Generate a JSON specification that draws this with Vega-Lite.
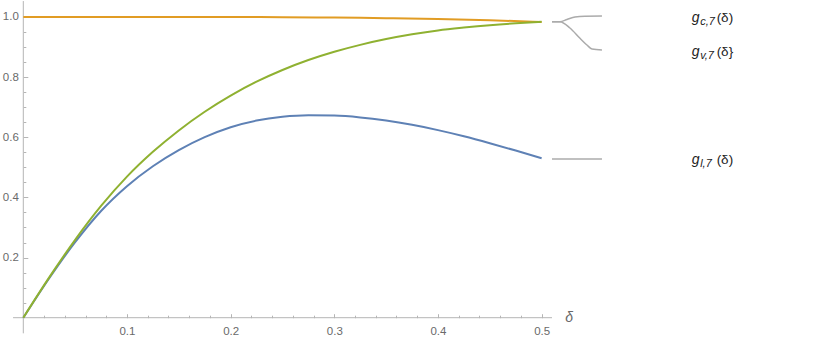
{
  "$schema": "https://vega.github.io/schema/vega-lite/v6.json",
  "width": 830,
  "height": 342,
  "autosize": "none",
  "padding": 0,
  "background": "white",
  "view": {"stroke": null},
  "config": {"font": "Liberation Sans"},
  "datasets": {
    "curves": [
      {"series": "l", "d": 0, "v": 0}, {"series": "l", "d": 0.025, "v": 0.1313}, {"series": "l", "d": 0.05, "v": 0.2513},
      {"series": "l", "d": 0.075, "v": 0.355}, {"series": "l", "d": 0.1, "v": 0.4375}, {"series": "l", "d": 0.125, "v": 0.5038},
      {"series": "l", "d": 0.15, "v": 0.5575}, {"series": "l", "d": 0.175, "v": 0.6005}, {"series": "l", "d": 0.2, "v": 0.6335},
      {"series": "l", "d": 0.225, "v": 0.6555}, {"series": "l", "d": 0.25, "v": 0.668}, {"series": "l", "d": 0.275, "v": 0.673},
      {"series": "l", "d": 0.3, "v": 0.672}, {"series": "l", "d": 0.325, "v": 0.666}, {"series": "l", "d": 0.35, "v": 0.6555},
      {"series": "l", "d": 0.375, "v": 0.6413}, {"series": "l", "d": 0.4, "v": 0.6238}, {"series": "l", "d": 0.425, "v": 0.6033},
      {"series": "l", "d": 0.45, "v": 0.5803}, {"series": "l", "d": 0.475, "v": 0.5558}, {"series": "l", "d": 0.5, "v": 0.5303},
      {"series": "c", "d": 0, "v": 1.0}, {"series": "c", "d": 0.1, "v": 1.0}, {"series": "c", "d": 0.2, "v": 0.9998},
      {"series": "c", "d": 0.25, "v": 0.9993}, {"series": "c", "d": 0.3, "v": 0.998}, {"series": "c", "d": 0.35, "v": 0.996},
      {"series": "c", "d": 0.4, "v": 0.993}, {"series": "c", "d": 0.45, "v": 0.989}, {"series": "c", "d": 0.5, "v": 0.9835},
      {"series": "v", "d": 0, "v": 0}, {"series": "v", "d": 0.025, "v": 0.134}, {"series": "v", "d": 0.05, "v": 0.259},
      {"series": "v", "d": 0.075, "v": 0.3715}, {"series": "v", "d": 0.1, "v": 0.469}, {"series": "v", "d": 0.125, "v": 0.5515},
      {"series": "v", "d": 0.15, "v": 0.6228}, {"series": "v", "d": 0.175, "v": 0.6848}, {"series": "v", "d": 0.2, "v": 0.7385},
      {"series": "v", "d": 0.225, "v": 0.7848}, {"series": "v", "d": 0.25, "v": 0.8238}, {"series": "v", "d": 0.275, "v": 0.8568},
      {"series": "v", "d": 0.3, "v": 0.8843}, {"series": "v", "d": 0.325, "v": 0.9073}, {"series": "v", "d": 0.35, "v": 0.9265},
      {"series": "v", "d": 0.375, "v": 0.9423}, {"series": "v", "d": 0.4, "v": 0.9553}, {"series": "v", "d": 0.425, "v": 0.9648},
      {"series": "v", "d": 0.45, "v": 0.9728}, {"series": "v", "d": 0.475, "v": 0.979}, {"series": "v", "d": 0.5, "v": 0.9838}
    ],
    "callouts": [
      {"series": "c", "d": 0.510, "v": 0.9844}, {"series": "c", "d": 0.5177, "v": 0.9844}, {"series": "c", "d": 0.5245, "v": 0.9917},
      {"series": "c", "d": 0.5322, "v": 1.0}, {"series": "c", "d": 0.5418, "v": 1.0027}, {"series": "c", "d": 0.5582, "v": 1.0033},
      {"series": "v", "d": 0.510, "v": 0.9844}, {"series": "v", "d": 0.5177, "v": 0.9844}, {"series": "v", "d": 0.5273, "v": 0.9634},
      {"series": "v", "d": 0.537, "v": 0.9292}, {"series": "v", "d": 0.5437, "v": 0.9069}, {"series": "v", "d": 0.5486, "v": 0.8936},
      {"series": "v", "d": 0.5582, "v": 0.8903},
      {"series": "l", "d": 0.510, "v": 0.5278}, {"series": "l", "d": 0.5582, "v": 0.5278}
    ],
    "labels": [
      {"series": "c", "d": 0.6447, "v": 0.9967, "sub": "c,7", "tail": "(δ)"},
      {"series": "v", "d": 0.6447, "v": 0.885, "sub": "v,7", "tail": "(δ}"},
      {"series": "l", "d": 0.6447, "v": 0.523, "sub": "l,7", "tail": "(δ)"}
    ],
    "xline": [{"d": -0.0099, "d2": 0.51, "v": 0}],
    "yline": [{"d": 0, "v": -0.052, "v2": 1.053}],
    "dlabel": [{"d": 0.5265, "v": 0, "t": "δ"}]
  },
  "encoding": {
    "x": {
      "field": "d", "type": "quantitative",
      "scale": {"domain": [-0.02248, 0.77818], "nice": false, "zero": false},
      "axis": {
        "orient": "bottom", "offset": -24.3, "domain": false, "grid": false, "title": null,
        "values": [0.02, 0.04, 0.06, 0.08, 0.1, 0.12, 0.14, 0.16, 0.18, 0.2, 0.22, 0.24, 0.26, 0.28, 0.3, 0.32, 0.34, 0.36, 0.38, 0.4, 0.42, 0.44, 0.46, 0.48, 0.5],
        "labelExpr": "abs(datum.value*10 - round(datum.value*10)) < 0.001 ? format(datum.value, '.1f') : ''",
        "tickSize": {"condition": {"test": "abs(datum.value*10 - round(datum.value*10)) < 0.001", "value": -4}, "value": -2.5},
        "tickColor": "#b5b5b5", "tickWidth": 1,
        "labelColor": "#6a6a6a", "labelFontSize": 11.5, "labelPadding": 12, "labelFlush": false, "labelOverlap": false
      }
    },
    "y": {
      "field": "v", "type": "quantitative",
      "scale": {"domain": [-0.0808, 1.0565], "nice": false, "zero": false},
      "axis": {
        "orient": "left", "offset": -23.3, "domain": false, "grid": false, "title": null,
        "values": [0.05, 0.1, 0.15, 0.2, 0.25, 0.3, 0.35, 0.4, 0.45, 0.5, 0.55, 0.6, 0.65, 0.7, 0.75, 0.8, 0.85, 0.9, 0.95, 1.0],
        "labelExpr": "abs(datum.value*5 - round(datum.value*5)) < 0.001 ? format(datum.value, '.1f') : ''",
        "tickSize": {"condition": {"test": "abs(datum.value*5 - round(datum.value*5)) < 0.001", "value": -4.5}, "value": -2.5},
        "tickColor": "#b5b5b5", "tickWidth": 1,
        "labelColor": "#6a6a6a", "labelFontSize": 11.5, "labelPadding": 9.5, "labelFlush": false, "labelOverlap": false
      }
    }
  },
  "layer": [
    {"data": {"name": "xline"}, "mark": {"type": "rule", "color": "#b5b5b5", "strokeWidth": 1}, "encoding": {"x2": {"field": "d2"}}},
    {"data": {"name": "yline"}, "mark": {"type": "rule", "color": "#b5b5b5", "strokeWidth": 1}, "encoding": {"y2": {"field": "v2"}}},
    {"data": {"name": "callouts"}, "mark": {"type": "line", "color": "#ababab", "strokeWidth": 1.5, "interpolate": "monotone"}, "encoding": {"detail": {"field": "series"}}},
    {"data": {"name": "curves"}, "transform": [{"filter": "datum.series == 'l'"}], "mark": {"type": "line", "color": "#5E81B5", "strokeWidth": 2, "interpolate": "monotone"}, "encoding": {}},
    {"data": {"name": "curves"}, "transform": [{"filter": "datum.series == 'c'"}], "mark": {"type": "line", "color": "#E19C24", "strokeWidth": 2, "interpolate": "monotone"}, "encoding": {}},
    {"data": {"name": "curves"}, "transform": [{"filter": "datum.series == 'v'"}], "mark": {"type": "line", "color": "#8FB131", "strokeWidth": 2, "interpolate": "monotone"}, "encoding": {}},
    {"data": {"name": "dlabel"}, "mark": {"type": "text", "align": "center", "baseline": "middle", "fontSize": 14, "fontStyle": "italic", "color": "#6a6a6a"}, "encoding": {"text": {"field": "t"}}},
    {"data": {"name": "labels"}, "mark": {"type": "text", "text": "g", "align": "left", "baseline": "middle", "fontSize": 14, "fontStyle": "italic", "color": "#222222"}, "encoding": {}},
    {"data": {"name": "labels"}, "mark": {"type": "text", "align": "left", "baseline": "middle", "dx": 8.5, "dy": 4, "fontSize": 11, "fontStyle": "italic", "color": "#222222"}, "encoding": {"text": {"field": "sub"}}},
    {"data": {"name": "labels"}, "mark": {"type": "text", "align": "left", "baseline": "middle", "dx": 25, "fontSize": 13.5, "color": "#222222"}, "encoding": {"text": {"field": "tail"}}}
  ]
}
